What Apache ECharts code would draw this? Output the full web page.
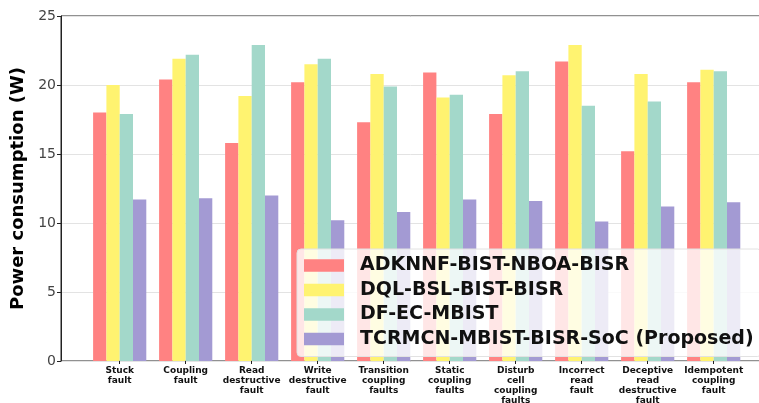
<!DOCTYPE html>
<html>
<head>
<meta charset="utf-8">
<script src="https://cdn.jsdelivr.net/npm/echarts@6/dist/echarts.min.js"></script>
<style>
  html, body { margin: 0; padding: 0; background: #fff; }
  #chart { width: 759px; height: 403px; }
</style>
</head>
<body>
<div id="chart"></div>
<script>
var categories = [
  'Stuck\nfault', 'Coupling\nfault', 'Read\ndestructive\nfault', 'Write\ndestructive\nfault',
  'Transition\ncoupling\nfaults', 'Static\ncoupling\nfaults', 'Disturb\ncell\ncoupling\nfaults',
  'Incorrect\nread\nfault', 'Deceptive\nread\ndestructive\nfault', 'Idempotent\ncoupling\nfault'
];
var seriesNames = ['ADKNNF-BIST-NBOA-BISR', 'DQL-BSL-BIST-BISR', 'DF-EC-MBIST', 'TCRMCN-MBIST-BISR-SoC (Proposed)'];
var adknnf = [18.0, 20.4, 15.8, 20.2, 17.3, 20.9, 17.9, 21.7, 15.2, 20.2];
var dql    = [20.0, 21.9, 19.2, 21.5, 20.8, 19.1, 20.7, 22.9, 20.8, 21.1];
var dfec   = [17.9, 22.2, 22.9, 21.9, 19.9, 19.3, 21.0, 18.5, 18.8, 21.0];
var tcrmcn = [11.7, 11.8, 12.0, 10.2, 10.8, 11.7, 11.6, 10.1, 11.2, 11.5];
var yTicks = [0, 5, 10, 15, 20, 25];
var colors = ['#ff8282', '#fff370', '#a3d8ca', '#a39ad3'];

var font = 'DejaVu Sans';
var chart = echarts.init(document.getElementById('chart'));
var values = [adknnf, dql, dfec, tcrmcn];

var option = {
  animation: false,
  textStyle: { fontFamily: font },
  grid: [
    { left: 61, top: 16, width: 711, bottom: 42, outerBoundsMode: 'none', containLabel: false,
      show: true, borderColor: '#222', borderWidth: 1, backgroundColor: 'transparent' },
    { left: 86.7, top: 16, width: 660, bottom: 42, outerBoundsMode: 'none', containLabel: false }
  ],
  xAxis: [
    { gridIndex: 0, type: 'value', min: 0, max: 1, show: false },
    {
      gridIndex: 1, type: 'category', data: categories,
      axisLine: { show: false },
      axisTick: { show: true, alignWithLabel: true, length: 3, lineStyle: { color: '#222' } },
      axisLabel: { interval: 0, fontSize: 9, fontWeight: 'bold', lineHeight: 10, color: '#111', margin: 5, fontFamily: font }
    }
  ],
  yAxis: [
    {
      gridIndex: 0, type: 'value', min: yTicks[0], max: yTicks[yTicks.length - 1], interval: 5,
      name: 'Power consumption (W)', nameLocation: 'middle', nameGap: 30,
      nameTextStyle: { fontSize: 18, fontWeight: 'bold', color: '#000', fontFamily: font },
      axisLine: { show: true, lineStyle: { color: '#222' } },
      axisTick: { show: true, length: 4, lineStyle: { color: '#222' } },
      axisLabel: { fontSize: 14, color: '#444', margin: 5, fontFamily: font },
      splitLine: { show: true, lineStyle: { color: '#e3e3e3', width: 1 } }
    },
    { gridIndex: 1, type: 'value', min: 0, max: 25, show: false, splitLine: { show: false } }
  ],
  legend: {
    orient: 'vertical', left: 297, top: 249,
    backgroundColor: 'rgba(255,255,255,0.8)', borderColor: '#e2e2e2', borderWidth: 1, borderRadius: 4,
    padding: [7, 8, 8, 7], itemWidth: 40, itemHeight: 12.5, itemGap: 5.5, icon: 'rect',
    textStyle: { fontSize: 19, lineHeight: 19, fontWeight: 'bold', color: '#111', fontFamily: font, padding: [0, 0, 0, 11] },
    data: seriesNames
  },
  series: seriesNames.map(function (name, i) {
    return {
      name: name, type: 'bar', xAxisIndex: 1, yAxisIndex: 1,
      data: values[i], barWidth: 13.3, barGap: '0%',
      itemStyle: { color: colors[i] }
    };
  })
};
chart.setOption(option);
</script>
</body>
</html>
